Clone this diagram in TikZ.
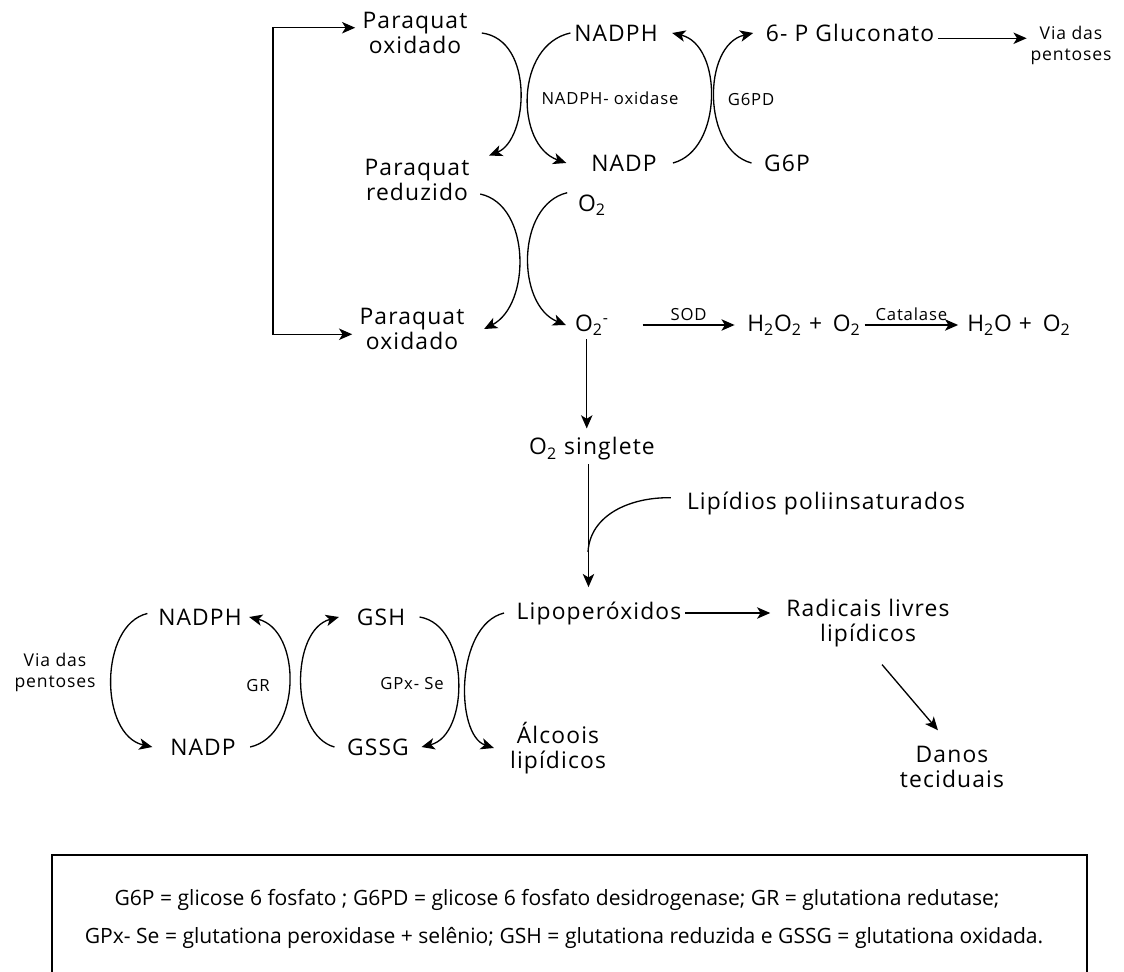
\documentclass[tikz,border=0pt]{standalone}
\usepackage{fontspec}
\setmainfont{Open Sans}[LetterSpace=5]
\newfontfamily\notafont{Open Sans}
\usetikzlibrary{arrows.meta}

\tikzset{
  arr/.style={-{Stealth[length=7.5pt,width=6.5pt,inset=2pt]},line width=0.75pt},
  arrdois/.style={{Stealth[length=7.5pt,width=6.5pt,inset=2pt]}-{Stealth[length=7.5pt,width=6.5pt,inset=2pt]},line width=0.75pt},
  liga/.style={line width=0.75pt},
  chem/.style={font=\fontsize{13}{14}\selectfont,align=center,inner sep=2pt},
  enz/.style={font=\fontsize{9.5}{11}\selectfont,inner sep=2pt},
  via/.style={font=\fontsize{10}{12}\selectfont,align=center,inner sep=2pt},
  nota/.style={font=\notafont\fontsize{12}{13}\selectfont,inner sep=0pt},
}

\begin{document}
\begin{tikzpicture}[x=0.02cm,y=-0.02cm]
\useasboundingbox (0,0) rectangle (1124,972);

% ciclo do paraquat
\node[chem] (pqoA) at (415,33) {Paraquat\\oxidado};
\node[chem] (nadphA) at (616,33) {NADPH};
\node[chem] (gluc) at (850,33) {6- P Gluconato};
\node[via] (viaA) at (1071,45) {Via das\\pentoses};
\node[enz] (nox) at (610,98) {NADPH- oxidase};
\node[enz] (gpd) at (751,100) {G6PD};
\node[chem] (pqr) at (417,180) {Paraquat\\reduzido};
\node[chem] (nadpA) at (624,163) {NADP};
\node[chem] (g6p) at (787,163) {G6P};
\node[chem] (o2) at (592,205) {O\textsubscript{2}};
\node[chem] (pqoB) at (412,329) {Paraquat\\oxidado};
\node[chem] (o2m) at (592,325) {O\textsubscript{2}\textsuperscript{-}};
\node[chem] (h2o2) at (804,325) {H\textsubscript{2}O\textsubscript{2} + \,O\textsubscript{2}};
\node[chem] (h2o) at (1019,325) {H\textsubscript{2}O + \,O\textsubscript{2}};
\coordinate (volta) at (273,180);

\draw[arrdois] ([xshift=-2pt,yshift=3pt]pqoA.west) -| (volta) |- ([xshift=-2pt,yshift=-3pt]pqoB.west);
\draw[arr] ([xshift=6pt]pqoA.east) .. controls (535,40) and (528,140) .. ([xshift=9pt]pqr.north east);
\draw[arr] (nadphA.west) .. controls (515,45) and (515,145) .. ([xshift=-12pt]nadpA.west);
\draw[arr] ([xshift=7pt]nadpA.east) .. controls (723,150) and (723,45) .. ([xshift=6pt]nadphA.east);
\draw[arr] ([xshift=-5pt]g6p.west) .. controls (702,150) and (702,45) .. ([xshift=-5pt]gluc.west);
\draw[arr] ([yshift=-3pt]gluc.east) -- ([yshift=-3pt]gluc.east -| viaA.west);
\draw[arr] ([xshift=4pt,yshift=-8pt]pqr.east) .. controls (531,205) and (531,305) .. ([xshift=9pt]pqoB.east);
\draw[arr] ([xshift=-4pt,yshift=7pt]o2.west) .. controls (516,205) and (516,305) .. ([xshift=-3pt]o2m.west);
\draw[arr] ([xshift=17pt]o2m.east) -- node[enz,above]{SOD} ([xshift=-5pt]h2o2.west);
\draw[arr] (h2o2.east) -- node[enz,above]{Catalase} ([xshift=-3pt]h2o.west);

% peroxidacao lipidica
\node[chem] (singl) at (592,449) {O\textsubscript{2} singlete};
\node[chem] (lipid) at (826,503) {Lipídios poliinsaturados};
\node[chem] (lipo) at (599,613) {Lipoperóxidos};
\node[chem] (rad) at (868,623) {Radicais livres\\lipídicos};
\node[chem] (danos) at (952,767) {Danos\\teciduais};
\coordinate (junta) at (588,552);

\draw[arr] ([xshift=-3pt]o2m.south) -- ([xshift=-3pt,yshift=3pt]o2m.south |- singl.north);
\draw[arr] ([xshift=-2pt]singl.south) -- ([xshift=-2pt,yshift=6pt]singl.south |- lipo.north);
\draw[liga] ([xshift=-7pt,yshift=3pt]lipid.west) .. controls (630,497) and (590,515) .. (junta);
\draw[arr] (lipo.east) -- ([xshift=-7pt]lipo.east -| rad.west);
\draw[arr] ([shift={(8pt,-8pt)}]rad.south) -- ([shift={(-8pt,7pt)}]danos.north);

% ciclo da glutationa
\node[chem] (nadphB) at (200,617) {NADPH};
\node[chem] (gsh) at (381,617) {GSH};
\node[chem] (nadpB) at (203,747) {NADP};
\node[chem] (gssg) at (378,747) {GSSG};
\node[chem] (alc) at (558,748) {Álcoois\\lipídicos};
\node[via] (viaB) at (55,672) {Via das\\pentoses};
\node[enz] (gr) at (258,686) {GR};
\node[enz] (gpx) at (412,684) {GPx- Se};

\draw[arr] ([xshift=-4pt,yshift=2pt]nadphB.west) .. controls (99,625) and (99,735) .. ([xshift=-8pt]nadpB.west);
\draw[arr] ([xshift=6pt]nadpB.east) .. controls (302,735) and (302,630) .. ([xshift=2pt]nadphB.east);
\draw[arr] ([xshift=-5pt]gssg.west) .. controls (290,735) and (290,630) .. ([xshift=-8pt]gsh.west);
\draw[arr] ([xshift=6pt]gsh.east) .. controls (470,625) and (470,735) .. ([xshift=5pt]gssg.east);
\draw[arr] ([xshift=-5pt]lipo.west) .. controls (455,625) and (455,735) .. ([xshift=-7pt]alc.west);

% legenda
\draw[line width=0.7pt] (52,855) rectangle (1087,985);
\node[nota] (notaA) at (557,900) {G6P = glicose 6 fosfato ; G6PD = glicose 6 fosfato desidrogenase; GR = glutationa redutase;};
\node[nota] (notaB) at (564,938) {GPx- Se = glutationa peroxidase + selênio; GSH = glutationa reduzida e GSSG = glutationa oxidada.};
\end{tikzpicture}
\end{document}
